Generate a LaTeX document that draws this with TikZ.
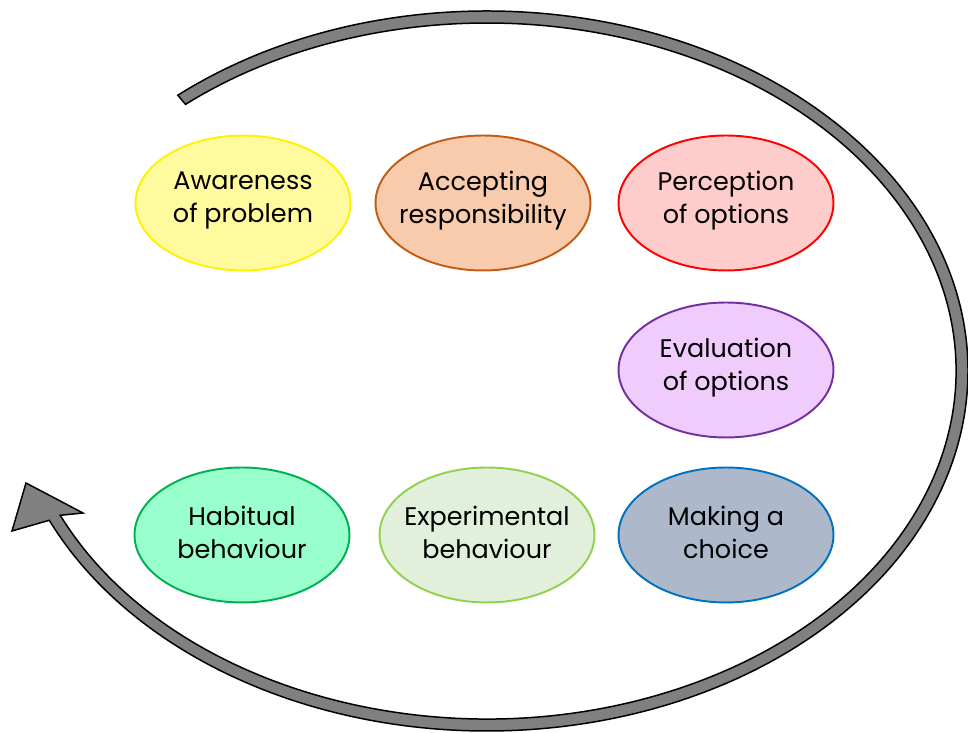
\documentclass[tikz,border=0pt]{standalone}
\usepackage{fontspec}
\setmainfont{Poppins}
\usetikzlibrary{shapes.geometric,calc}

\definecolor{awarefill}{HTML}{FFFA9E}
\definecolor{awareline}{HTML}{FFF200}
\definecolor{acceptfill}{HTML}{F8CBAD}
\definecolor{acceptline}{HTML}{C55A11}
\definecolor{percfill}{HTML}{FFCCCC}
\definecolor{percline}{HTML}{FF0000}
\definecolor{evalfill}{HTML}{F0CCFC}
\definecolor{evalline}{HTML}{7030A0}
\definecolor{choicefill}{HTML}{ADB9CA}
\definecolor{choiceline}{HTML}{0070C0}
\definecolor{expfill}{HTML}{E2EFDA}
\definecolor{expline}{HTML}{92D050}
\definecolor{habitfill}{HTML}{99FFCC}
\definecolor{habitline}{HTML}{00B050}

% ellipse keeps its size, the words sit on top as a centred label
\tikzset{
  stage/.style={ellipse, draw, line width=1.1pt, inner sep=0pt,
    minimum width=4.3cm, minimum height=2.7cm,
    label={[align=center, yshift=1.5pt, font=\fontsize{14.5}{18.8}\selectfont]center:#1}},
  cycle/.style={fill=black!50, draw=black, line width=0.85pt, line join=miter}
}

\begin{document}
\begin{tikzpicture}[x=0.02cm,y=0.02cm]
        \useasboundingbox (0,0) rectangle (968,733);

        % Big loop round the stages, tail at the top left, head at the left.
        \draw[cycle] (487,362) ++(130:481 and 360)
            arc[start angle=130, end angle=-155.5, x radius=481, y radius=360]
            -- (12,202) -- (26,250) -- (83,220)
            -- ($(487,362)+(-155.5:469 and 348)$)
            arc[start angle=-155.5, end angle=130, x radius=469, y radius=348]
            -- cycle;

        % Top row.
        \node[stage={Awareness\\of problem}, fill=awarefill, draw=awareline] (aware) at (243,530) {};
        \node[stage={Accepting\\responsibility}, fill=acceptfill, draw=acceptline] (accept) at (483,530) {};
        \node[stage={Perception\\of options}, fill=percfill, draw=percline] (perceive) at (726,530) {};

        % Right column.
        \node[stage={Evaluation\\of options}, fill=evalfill, draw=evalline] (evaluate) at (726,363) {};
        \node[stage={Making a\\choice}, fill=choicefill, draw=choiceline] (choose) at (726,198) {};

        % Bottom row.
        \node[stage={Experimental\\behaviour}, fill=expfill, draw=expline] (experiment) at (487,198) {};
        \node[stage={Habitual\\behaviour}, fill=habitfill, draw=habitline] (habit) at (242,198) {};
    \end{tikzpicture}
\end{document}
